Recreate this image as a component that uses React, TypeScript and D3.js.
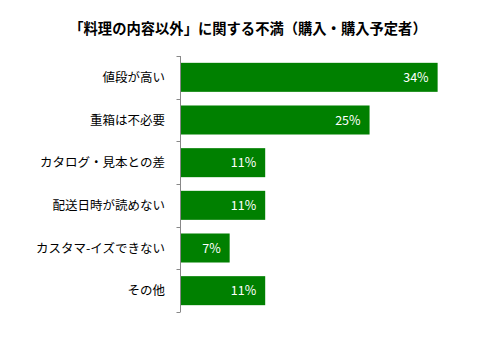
import React from "react";
import * as d3 from "d3";

const categories = ["値段が高い", "重箱は不必要", "カタログ・見本との差", "配送日時が読めない", "カスタマ-イズできない", "その他"];
const values = [34, 25, 11.2, 11.2, 6.5, 11.2];
const valueLabels = ["34%", "25%", "11%", "11%", "7%", "11%"];
const title = "「料理の内容以外」に関する不満（購入・購入予定者）";

export default function App() {
  const W = 492, H = 357;
  const x0 = 180.5;
  const x = d3.scaleLinear().domain([0, 40]).range([x0, x0 + 302.5]);
  const y = d3.scaleBand<string>().domain(categories).range([56, 312]).paddingInner(0.32).paddingOuter(0.16);
  const band = d3.scaleBand<string>().domain(categories).range([56, 312]);
  const font = "'Noto Sans CJK JP', sans-serif";
  return (
    <svg width={W} height={H} style={{ position: "absolute", left: 0, top: 0 }}>
      <rect width={W} height={H} fill="#fff" />
      <text x={248} y={34} textAnchor="middle" fontFamily={font} fontWeight="bold" fontSize={14.3} fill="#000">{title}</text>
      {categories.map((c, i) => (
        <g key={c}>
          <rect x={x(0)} y={y(c)!} width={x(values[i]) - x(0)} height={y.bandwidth()} fill="#008000" />
          <text x={x(values[i]) - 9} y={y(c)! + y.bandwidth() / 2} dy="0.36em" textAnchor="end" fontFamily={font} fontSize={12.5} fill="#fff">{valueLabels[i]}</text>
          <text x={165} y={band(c)! + band.bandwidth() / 2} dy="0.36em" textAnchor="end" fontFamily={font} fontSize={12.5} fill="#000">{c}</text>
        </g>
      ))}
      <line x1={x0} x2={x0} y1={56} y2={312} stroke="#888" strokeWidth={1} />
      {[...categories.map((c) => band(c)!), 312].map((t, i) => (
        <line key={i} x1={x0 - 4} x2={x0} y1={Math.round(t) + 0.5} y2={Math.round(t) + 0.5} stroke="#888" strokeWidth={1} />
      ))}
    </svg>
  );
}
